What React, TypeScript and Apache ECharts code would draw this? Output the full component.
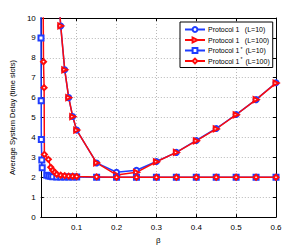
import { useEffect, useRef } from 'react';
import * as echarts from 'echarts';

// β values and average delays
const betaP1 = [0.05, 0.06, 0.07, 0.08, 0.09, 0.1, 0.15, 0.2, 0.25, 0.3, 0.35, 0.4, 0.45, 0.5, 0.55, 0.6];
const delayP1L10 = [12.3, 9.6, 7.4, 6.0, 5.05, 4.37, 2.72, 2.25, 2.35, 2.79, 3.25, 3.85, 4.45, 5.15, 5.9, 6.75];
const delayP1L100 = [12.3, 9.6, 7.4, 6.0, 5.05, 4.37, 2.72, 2.12, 2.25, 2.78, 3.25, 3.83, 4.43, 5.14, 5.9, 6.73];

const betaP1sL10 = [0.01, 0.0105, 0.011, 0.0113, 0.0125, 0.0135, 0.025, 0.03, 0.035, 0.04, 0.05, 0.06, 0.07, 0.08, 0.09, 0.1, 0.15, 0.2, 0.25, 0.3, 0.35, 0.4, 0.45, 0.5, 0.55, 0.6];
const delayP1sL10 = [12, 9.0, 5.85, 3.9, 2.87, 2.48, 2.1, 2.06, 2.05, 2.03, 2.02, 2.02, 2.01, 2.01, 2.01, 2.01, 2.0, 2.0, 2.0, 2.0, 2.0, 2.0, 2.0, 2.0, 2.0, 2.0];

const betaP1sL100 = [0.0155, 0.0168, 0.0183, 0.019, 0.029, 0.035, 0.04, 0.045, 0.05, 0.06, 0.07, 0.08, 0.09, 0.1, 0.15, 0.2, 0.25, 0.3, 0.35, 0.4, 0.45, 0.5, 0.55, 0.6];
const delayP1sL100 = [12, 7.8, 6.5, 3.15, 2.9, 2.5, 2.35, 2.25, 2.15, 2.1, 2.08, 2.06, 2.05, 2.04, 2.02, 2.0, 2.0, 2.0, 2.0, 2.0, 2.0, 2.0, 2.0, 2.0];

const xTicks = [0.1, 0.2, 0.3, 0.4, 0.5, 0.6];
const seriesNames = ['Protocol 1 (L=10)', 'Protocol 1 (L=100)', 'Protocol 1* (L=10)', 'Protocol 1* (L=100)'];

const BLUE = '#1f3dff';
const RED = '#ff0a0a';
const FONT = 'Liberation Sans, Arial, sans-serif';

const zip = (xs: number[], ys: number[]) => xs.map((x, i) => [x, ys[i]]);

export default function App() {
  const ref = useRef<HTMLDivElement>(null);
  useEffect(() => {
    const chart = echarts.init(ref.current!, null, { renderer: 'svg' });
    const mk = (name: string, data: number[][], color: string, symbol: string, rotate = 0) => ({
      name,
      type: 'line',
      data,
      symbol,
      symbolSize: 5,
      symbolRotate: rotate,
      clip: true,
      lineStyle: { color, width: 1.5 },
      itemStyle: { color, borderColor: color, borderWidth: 1.3 },
      emphasis: { disabled: true },
    });
    chart.setOption({
      animation: false,
      backgroundColor: '#fff',
      textStyle: { fontFamily: FONT },
      grid: { left: 40, right: 29, top: 18, bottom: 28 },
      legend: {
        orient: 'vertical',
        left: 180,
        top: 22,
        padding: [3, 3, 3, 4],
        itemGap: 2.5,
        itemWidth: 20,
        itemHeight: 6,
        borderColor: '#000',
        borderWidth: 1,
        backgroundColor: '#fff',
        data: seriesNames,
        textStyle: {
          fontSize: 7,
          color: '#000',
          padding: [0, 0, 0, -2],
          rich: {
            a: { fontSize: 7, color: '#000', fontFamily: FONT },
            s: { fontSize: 5, color: '#000', fontFamily: FONT, padding: [0, 1, 4, 1] },
          },
        },
        formatter: (n: string) => {
          const i = n.indexOf('*');
          if (i < 0) {
            const j = n.indexOf(' (');
            return `{a|${n.slice(0, j)}}{s| }{a|${n.slice(j)}}`;
          }
          return `{a|${n.slice(0, i)}}{s|*}{a|${n.slice(i + 1)}}`;
        },
      },
      xAxis: [
        {
          type: 'value',
          min: 0.01,
          max: 0.6,
          name: 'β',
          nameLocation: 'middle',
          nameGap: 12,
          nameTextStyle: { fontSize: 8, color: '#000' },
          axisLine: { show: true, onZero: false, lineStyle: { color: '#000', width: 1 } },
          axisTick: { show: true, inside: true, length: 3, customValues: xTicks, lineStyle: { color: '#000' } },
          axisLabel: { customValues: xTicks, fontSize: 8, color: '#000', margin: 6, formatter: (v: number) => String(+v.toFixed(2)) },
          splitLine: { show: true, lineStyle: { color: '#b8b8b8', type: [1, 2], width: 1 } },
        },
        {
          type: 'value',
          position: 'top',
          min: 0.01,
          max: 0.6,
          axisLine: { show: true, onZero: false, lineStyle: { color: '#000', width: 1 } },
          axisTick: { show: true, inside: true, length: 3, customValues: xTicks, lineStyle: { color: '#000' } },
          axisLabel: { show: false },
          splitLine: { show: false },
        },
      ],
      yAxis: [
        {
          type: 'value',
          min: 0,
          max: 10,
          interval: 1,
          name: 'Average System Delay (time slots)',
          nameLocation: 'middle',
          nameGap: 21,
          nameTextStyle: { fontSize: 7.5, color: '#000' },
          axisLine: { show: true, onZero: false, lineStyle: { color: '#000', width: 1 } },
          axisTick: { show: true, inside: true, length: 3, lineStyle: { color: '#000' } },
          axisLabel: { fontSize: 8, color: '#000', margin: 5 },
          splitLine: { show: true, lineStyle: { color: '#b8b8b8', type: [1, 2], width: 1 } },
        },
        {
          type: 'value',
          position: 'right',
          min: 0,
          max: 10,
          interval: 1,
          axisLine: { show: true, onZero: false, lineStyle: { color: '#000', width: 1 } },
          axisTick: { show: true, inside: true, length: 3, lineStyle: { color: '#000' } },
          axisLabel: { show: false },
          splitLine: { show: false },
        },
      ],
      series: [
        mk(seriesNames[0], zip(betaP1, delayP1L10), BLUE, 'emptyCircle'),
        mk(seriesNames[1], zip(betaP1, delayP1L100), RED, 'emptyTriangle', -90),
        mk(seriesNames[2], zip(betaP1sL10, delayP1sL10), BLUE, 'emptyRect'),
        mk(seriesNames[3], zip(betaP1sL100, delayP1sL100), RED, 'emptyDiamond'),
      ],
    });
    return () => chart.dispose();
  }, []);
  return <div ref={ref} style={{ position: 'fixed', left: 0, top: 0, width: 305, height: 249 }} />;
}
